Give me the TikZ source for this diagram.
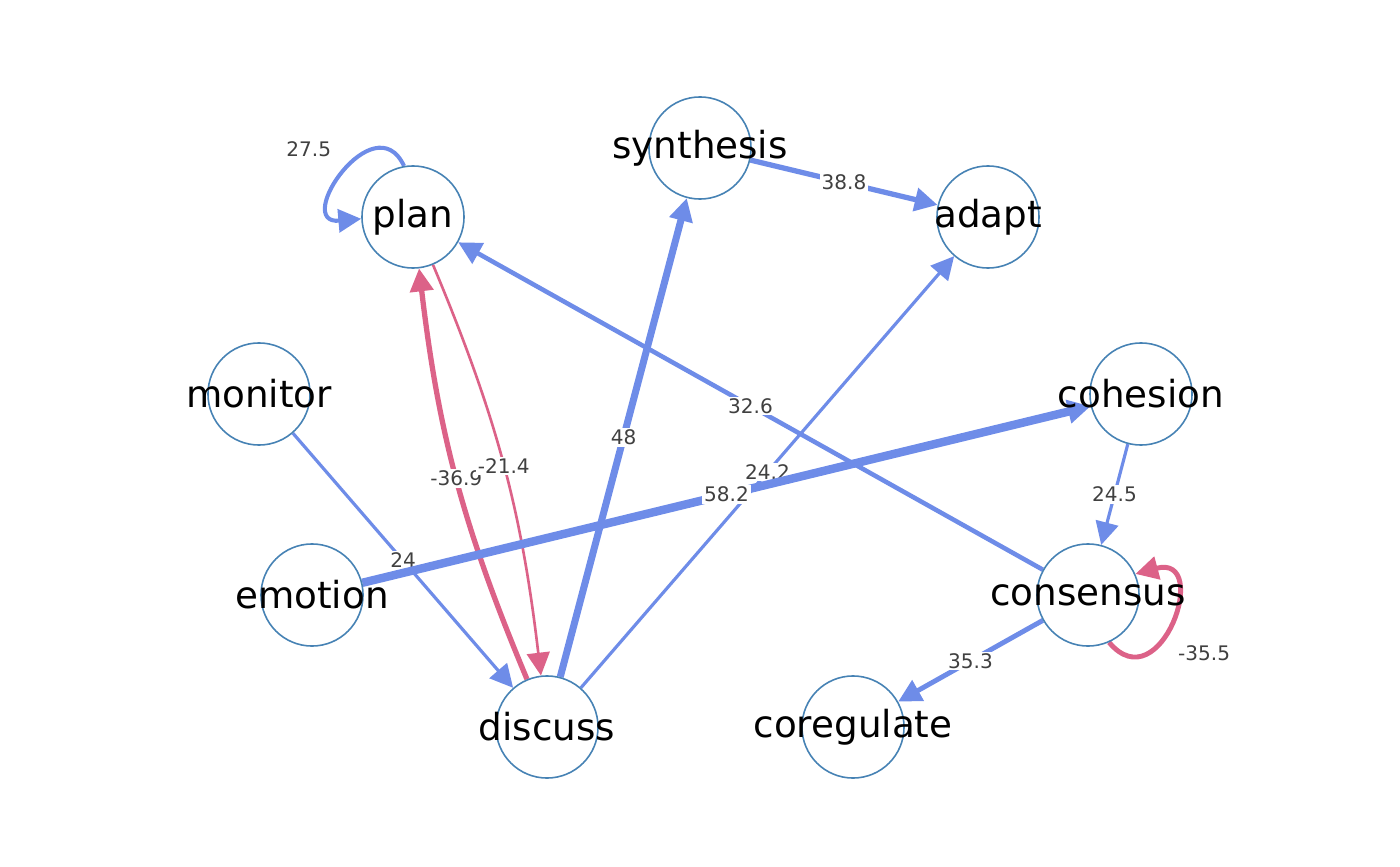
\documentclass[tikz,border=0pt]{standalone}
\usepackage{fontspec}
\setmainfont{DejaVu Sans}
\usetikzlibrary{arrows.meta,positioning}
\pgfdeclarelayer{background}
\pgfsetlayers{background,main}
\definecolor{edgeblue}{RGB}{110,140,232}
\definecolor{edgered}{RGB}{220,98,136}
\definecolor{nodeline}{RGB}{70,130,180}
\definecolor{labelgray}{RGB}{64,64,64}

\begin{document}
\begin{tikzpicture}[
    x=0.01cm, y=0.01cm,
    state/.style={circle, draw=nodeline, line width=0.45pt, fill=white, minimum size=1.02cm, inner sep=0pt},
    statename/.style={font=\fontsize{10.6}{12}\selectfont, text=black},
    posedge/.style={draw=edgeblue, -{Triangle[length=6.5pt,width=6.5pt]}},
    negedge/.style={draw=edgered, -{Triangle[length=6.5pt,width=6.5pt]}},
    elabel/.style={font=\fontsize{5.7}{7}\selectfont, text=labelgray, fill=white, inner sep=0.5pt}
]
\useasboundingbox (0,0) rectangle (1400,866);

% States
\node[state, label={[statename]center:plan}] (plan) at (413,649) {};
\node[state, label={[statename]center:synthesis}] (synthesis) at (700,718) {};
\node[state, label={[statename]center:adapt}] (adapt) at (988,649) {};
\node[state, label={[statename]center:monitor}] (monitor) at (259,472) {};
\node[state, label={[statename]center:cohesion}] (cohesion) at (1141,472) {};
\node[state, label={[statename]center:emotion}] (emotion) at (312,271) {};
\node[state, label={[statename]center:consensus}] (consensus) at (1088,271) {};
\node[state, label={[statename]center:discuss}] (discuss) at (547,139) {};
\node[state, label={[statename]center:coregulate}] (coregulate) at (853,139) {};

\begin{pgfonlayer}{background}
% Negative transitions
\draw[negedge, line width=1.5pt] (discuss) to[bend left=8] node[elabel] {-36.9} (plan);
\draw[negedge, line width=0.75pt] (plan) to[bend left=8] node[elabel] {-21.4} (discuss);
\draw[negedge, line width=1.4pt] (consensus.-66) .. controls +(-50:80) and +(15:80) .. node[elabel, pos=0.5, below right=5pt and 1pt] {-35.5} (consensus.24);

% Positive transitions
\draw[posedge, line width=1.15pt] (plan.100) .. controls +(115:70) and +(185:70) .. node[elabel, pos=0.5, above left=3pt and 3pt] {27.5} (plan.182);
\draw[posedge, line width=0.9pt] (monitor) -- (discuss) node[elabel, midway] {24};
\draw[posedge, line width=2pt] (discuss) -- (synthesis) node[elabel, midway] {48};
\draw[posedge, line width=1.3pt] (consensus) -- (plan) node[elabel, midway] {32.6};
\draw[posedge, line width=0.9pt] (discuss) -- (adapt) node[elabel, midway] {24.2};
\draw[posedge, line width=2.4pt] (emotion) -- (cohesion) node[elabel, midway] {58.2};
\draw[posedge, line width=1.5pt] (synthesis) -- (adapt) node[elabel, midway] {38.8};
\draw[posedge, line width=0.9pt] (cohesion) -- (consensus) node[elabel, midway] {24.5};
\draw[posedge, line width=1.4pt] (consensus) -- (coregulate) node[elabel, midway] {35.3};
\end{pgfonlayer}

\end{tikzpicture}
\end{document}
